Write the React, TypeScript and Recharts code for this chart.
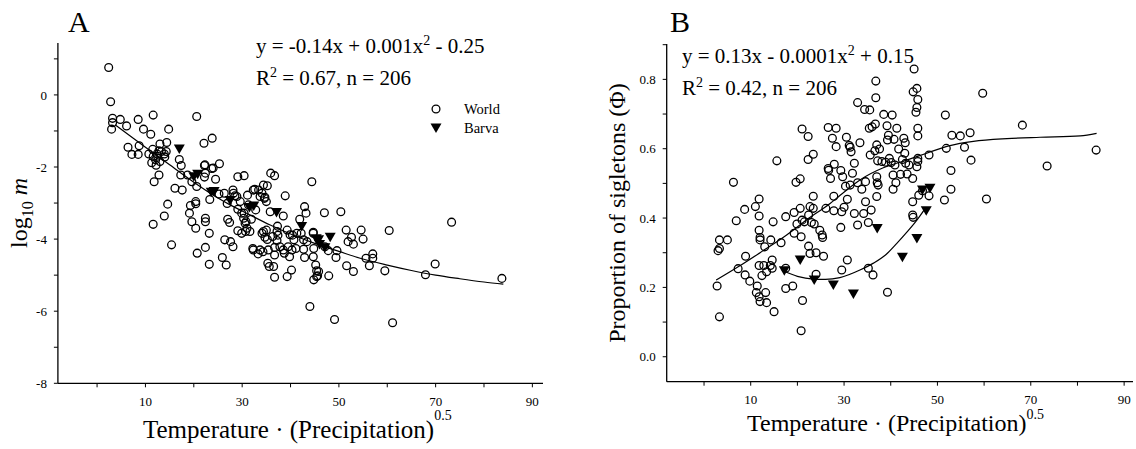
import React from "react";
import { ScatterChart, Scatter, XAxis, YAxis } from "recharts";

const FONT = '"Liberation Serif", "Times New Roman", serif';

// x ticks shared by both panels (labels only on odd tens)
const xTicks = [0, 10, 20, 30, 40, 50, 60, 70, 80, 90];
const xLabelled = [10, 30, 50, 70, 90];

const yTicksA = [-8, -7, -6, -5, -4, -3, -2, -1, 0, 1];
const yLabelledA = [-8, -6, -4, -2, 0];
const yTicksB = [0, 0.1, 0.2, 0.3, 0.4, 0.5, 0.6, 0.7, 0.8, 0.9];
const yLabelledB = ["0.0", "0.2", "0.4", "0.6", "0.8"];

// panel A: log10 m vs T*P^0.5
const worldA: [number, number][] = [
  [2.4, 0.76], [2.8, -0.19], [3.2, -0.65], [3.2, -0.77], [3.0, -0.95], [4.8, -0.68], [6.1, -0.86], [8.5, -0.68],
  [9.6, -0.95], [11.1, -1.09], [11.6, -0.56], [6.4, -1.45], [7.2, -1.65], [8.5, -1.65], [8.7, -1.41], [10.7, -1.64],
  [11.5, -1.51], [11.6, -1.71], [12.1, -1.8], [12.4, -1.64], [11.3, -1.88], [13.0, -1.36], [13.3, -1.57], [13.9, -1.64],
  [14.4, -1.32], [14.8, -0.95], [14.3, -1.57], [12.8, -2.22], [11.8, -2.41], [11.6, -3.59], [13.9, -3.36], [14.6, -3.03],
  [15.4, -4.16], [17.0, -1.79], [17.4, -1.96], [17.3, -2.22], [16.1, -2.59], [17.6, -2.64], [18.7, -2.22], [19.3, -3.07],
  [19.1, -3.28], [19.6, -3.52], [20.4, -3.7], [20.4, -2.96], [20.4, -3.02], [19.6, -2.41], [20.6, -0.6], [20.6, -2.54],
  [20.7, -4.39], [22.2, -1.96], [22.4, -2.17], [22.1, -1.34], [23.8, -1.2], [22.2, -2.28], [22.4, -3.42], [22.4, -3.52],
  [22.4, -4.23], [23.2, -3.84], [23.2, -4.7], [23.3, -2.9], [23.7, -2.04], [24.5, -2.34], [25.3, -1.91], [25.2, -2.75],
  [26.3, -2.73], [26.9, -3.01], [27.0, -3.45], [27.4, -3.54], [27.6, -4.07], [28.1, -4.21], [25.9, -4.51], [26.4, -4.02],
  [26.7, -4.72], [28.1, -2.64], [28.5, -2.8], [29.1, -2.27], [30.4, -2.24], [29.1, -3.17], [29.1, -3.77], [29.9, -3.84],
  [30.4, -3.28], [30.6, -3.56], [30.7, -3.79], [31.1, -2.78], [31.3, -3.05], [31.9, -3.45], [32.2, -4.26], [32.6, -2.62],
  [32.8, -3.19], [33.3, -4.41], [33.7, -2.82], [34.1, -2.73], [34.3, -4.35], [34.4, -2.5], [34.1, -3.84], [34.6, -2.87],
  [35.0, -2.96], [35.2, -2.52], [35.0, -3.75], [35.2, -4.01], [35.3, -4.67], [35.6, -4.76], [35.9, -2.17], [36.7, -2.24],
  [36.3, -3.93], [36.7, -4.23], [36.7, -4.44], [36.5, -4.76], [36.7, -5.06], [37.3, -3.64], [37.4, -3.89], [37.8, -4.21],
  [38.5, -3.36], [38.9, -2.8], [38.7, -4.39], [39.3, -3.75], [39.5, -4.21], [39.8, -4.49], [39.3, -5.04], [40.2, -4.86],
  [40.4, -3.89], [40.7, -4.02], [41.1, -4.26], [41.9, -3.45], [42.2, -3.84], [42.7, -4.02], [42.7, -4.28], [42.9, -3.1],
  [43.2, -3.28], [42.9, -4.51], [44.0, -5.87], [44.4, -2.41], [44.7, -3.81], [44.7, -4.49], [44.8, -5.13], [45.2, -4.72],
  [45.4, -4.88], [45.6, -5.02], [44.8, -4.26], [47.0, -3.27], [47.1, -4.21], [47.8, -4.32], [47.9, -5.02], [49.1, -6.23],
  [49.4, -4.51], [49.6, -4.32], [50.4, -3.24], [51.5, -3.75], [51.9, -4.07], [51.6, -4.74], [52.6, -3.95], [53.0, -4.14],
  [53.0, -4.9], [54.6, -3.75], [55.0, -4.0], [55.6, -4.53], [56.3, -4.74], [57.0, -4.41], [57.0, -4.53], [59.5, -4.88],
  [60.4, -3.76], [61.1, -6.32], [67.9, -4.99], [69.9, -4.69], [73.3, -3.53], [83.7, -5.09],
  [12.5, -1.7], [13.0, -1.85], [12.8, -1.55], [14.0, -1.72], [12.2, -1.95], [22.3, -1.94], [24.0, -2.03], [28.2, -2.73],
  [28.9, -2.82], [29.6, -2.96], [29.9, -3.28], [30.3, -3.42], [30.8, -3.52], [31.0, -3.7], [31.6, -3.79], [32.3, -2.64],
  [33.4, -2.64], [34.7, -2.84], [35.8, -3.24], [34.4, -3.79], [34.7, -3.95], [35.4, -4.3], [32.3, -4.3], [33.7, -4.3],
  [37.2, -3.79], [37.2, -4.04], [38.5, -4.3], [39.9, -3.88], [40.3, -4.3], [41.3, -3.84], [43.4, -4.07], [44.7, -3.84],
  [45.8, -4.9], [45.4, -5.04],
];

const barvaA: [number, number][] = [
  [17.0, -1.5], [20.0, -2.27], [20.8, -2.2], [23.6, -2.7], [24.2, -2.68], [27.5, -2.93], [31.5, -3.12], [32.4, -3.08],
  [37.1, -3.26], [42.3, -3.65], [45.3, -3.99], [45.8, -4.02], [48.2, -3.95], [47.1, -4.24], [46.0, -4.15],
];

const fitA: [number, number][] = [
  [3.7, -0.83], [10, -1.45], [15, -1.94], [20, -2.42], [25, -2.86], [27.5, -3.05], [30, -3.22], [35.8, -3.61],
  [40, -3.86], [45, -4.12], [50, -4.34], [54.4, -4.53], [60, -4.72], [65, -4.87], [70, -5.0], [75, -5.1],
  [80, -5.19], [84, -5.25],
];

// panel B: proportion of singletons
const worldB: [number, number][] = [
  [2.8, 0.204], [3.3, 0.115], [3.0, 0.306], [3.3, 0.312], [3.3, 0.337], [5.0, 0.337], [6.3, 0.503], [6.9, 0.392],
  [7.3, 0.254], [8.9, 0.29], [8.7, 0.425], [8.8, 0.236], [9.8, 0.218], [11.0, 0.433], [11.8, 0.455], [11.8, 0.406],
  [11.8, 0.365], [12.0, 0.344], [12.0, 0.337], [11.8, 0.263], [11.4, 0.204], [11.2, 0.185], [11.8, 0.173], [12.0, 0.159],
  [12.4, 0.234], [12.8, 0.263], [13.0, 0.317], [13.2, 0.185], [13.4, 0.156], [13.4, 0.245], [14.3, 0.337], [14.6, 0.279],
  [14.6, 0.255], [14.2, 0.263], [14.8, 0.389], [15.0, 0.13], [15.6, 0.565], [16.5, 0.329], [17.5, 0.404], [17.5, 0.255],
  [17.5, 0.197], [19.0, 0.204], [19.3, 0.356], [19.3, 0.416], [19.7, 0.503], [19.9, 0.383], [20.6, 0.513], [20.6, 0.428],
  [20.8, 0.346], [21.0, 0.394], [21.1, 0.162], [20.8, 0.075], [21.0, 0.657], [21.5, 0.389], [22.3, 0.635], [22.3, 0.569],
  [22.4, 0.409], [22.4, 0.319], [22.7, 0.433], [22.7, 0.298], [23.0, 0.387], [23.4, 0.584], [23.4, 0.463], [23.4, 0.428],
  [23.6, 0.383], [24.0, 0.3], [24.0, 0.238], [24.8, 0.365], [25.3, 0.351], [25.4, 0.344], [25.6, 0.29], [26.1, 0.428],
  [26.6, 0.543], [26.6, 0.661], [26.7, 0.538], [27.1, 0.514], [27.5, 0.63], [27.8, 0.463], [27.8, 0.421], [27.9, 0.555],
  [28.3, 0.659], [28.3, 0.606], [29.3, 0.537], [29.3, 0.373], [29.5, 0.418], [29.5, 0.25], [29.7, 0.519], [30.0, 0.431],
  [30.3, 0.492], [30.5, 0.633], [30.7, 0.454], [30.7, 0.279], [31.1, 0.609], [31.3, 0.604], [31.3, 0.495], [31.5, 0.591],
  [31.8, 0.529], [32.2, 0.558], [32.2, 0.413], [32.9, 0.733], [32.9, 0.502], [32.9, 0.38], [33.4, 0.617], [33.8, 0.483],
  [34.2, 0.413], [34.4, 0.713], [34.6, 0.505], [34.6, 0.447], [35.2, 0.255], [35.2, 0.387], [35.4, 0.659], [35.5, 0.712],
  [35.6, 0.582], [35.8, 0.423], [36.0, 0.663], [36.2, 0.236], [36.6, 0.594], [36.7, 0.671], [36.8, 0.795], [36.8, 0.747],
  [37.0, 0.611], [37.0, 0.519], [37.0, 0.462], [37.1, 0.502], [37.2, 0.565], [37.3, 0.495], [37.6, 0.599], [38.1, 0.563],
  [38.5, 0.699], [38.9, 0.561], [39.2, 0.666], [39.3, 0.625], [39.3, 0.186], [39.5, 0.639], [39.7, 0.572], [40.1, 0.56],
  [40.3, 0.697], [40.5, 0.524], [40.5, 0.483], [40.7, 0.627], [40.9, 0.553], [41.1, 0.502], [41.3, 0.659], [41.7, 0.599],
  [42.1, 0.526], [42.5, 0.569], [42.8, 0.63], [43.0, 0.587], [43.1, 0.617], [43.2, 0.558], [43.5, 0.527], [43.9, 0.553],
  [44.7, 0.514], [44.7, 0.447], [44.7, 0.409], [44.8, 0.402], [44.8, 0.764], [45.0, 0.83], [45.6, 0.774], [45.8, 0.742],
  [45.6, 0.719], [45.4, 0.705], [45.8, 0.659], [45.8, 0.637], [45.8, 0.572], [45.8, 0.563], [45.6, 0.548], [46.0, 0.466],
  [46.8, 0.479], [48.2, 0.582], [48.2, 0.464], [51.7, 0.697], [51.9, 0.601], [51.5, 0.452], [52.9, 0.537], [52.9, 0.483],
  [53.1, 0.639], [54.9, 0.637], [55.8, 0.604], [57.0, 0.646], [57.2, 0.567], [59.7, 0.76], [60.5, 0.455], [68.2, 0.668],
  [73.5, 0.55], [84.0, 0.596],
];

const barvaB: [number, number][] = [
  [17.2, 0.248], [20.6, 0.279], [23.6, 0.221], [27.7, 0.207], [32.0, 0.181], [37.1, 0.37], [42.5, 0.287], [45.6, 0.341],
  [46.8, 0.481], [48.4, 0.486], [47.6, 0.421],
];

const fitWorldB: [number, number][] = [
  [2.6, 0.221], [7.4, 0.26], [12, 0.3], [17.7, 0.351], [22, 0.395], [27, 0.442], [29.1, 0.465], [33.4, 0.51],
  [38.4, 0.545], [43.4, 0.567], [47.7, 0.587], [52.7, 0.609], [57.7, 0.621], [64.9, 0.629], [72, 0.633], [80.6, 0.637],
  [84.1, 0.644],
];

const fitBarvaB: [number, number][] = [
  [17.4, 0.245], [20, 0.232], [23.4, 0.224], [26, 0.223], [29.1, 0.228], [33.4, 0.25], [36.3, 0.27], [39, 0.295],
  [41.3, 0.327], [43.5, 0.36], [45.6, 0.394], [47.4, 0.428],
];

const pts = (a: [number, number][]) => a.map(([x, y]) => ({ x, y }));

const Ring = (p: any) => (
  <circle cx={p.cx} cy={p.cy} r={3.9} fill="none" stroke="#000" strokeWidth={1.3} />
);
const Tri = (p: any) => (
  <path d={`M${p.cx - 5.5},${p.cy - 4.5}L${p.cx + 5.5},${p.cy - 4.5}L${p.cx},${p.cy + 5}Z`} fill="#000" />
);
const NoDot = () => <g />;

const tickStyle = { fill: "#000", fontSize: 13, fontFamily: FONT, style: { fontFamily: FONT } };

function Panel(props: {
  left: number;
  width: number;
  margin: { top: number; right: number; bottom: number; left: number };
  yWidth: number;
  xDomain: [number, number];
  yDomain: [number, number];
  yTicks: number[];
  yFmt: (v: number) => string;
  world: [number, number][];
  barva: [number, number][];
  fits: [number, number][][];
}) {
  const { left, width, margin, yWidth, xDomain, yDomain, yTicks, yFmt, world, barva, fits } = props;
  return (
    <div style={{ position: "absolute", left, top: 0 }}>
      <ScatterChart width={width} height={449} margin={margin}>
        <XAxis
          type="number"
          dataKey="x"
          domain={xDomain}
          ticks={xTicks}
          interval={0}
          allowDataOverflow
          height={40}
          tickSize={4}
          tickMargin={9}
          tickFormatter={(v: number) => (xLabelled.includes(v) ? String(v) : "")}
          tick={tickStyle}
          axisLine={{ stroke: "#000", strokeWidth: 1.3 }}
          tickLine={{ stroke: "#000" }}
        />
        <YAxis
          type="number"
          dataKey="y"
          domain={yDomain}
          ticks={yTicks}
          interval={0}
          allowDataOverflow
          width={yWidth}
          tickSize={4}
          tickMargin={7}
          tickFormatter={yFmt}
          tick={tickStyle}
          axisLine={{ stroke: "#000", strokeWidth: 1.3 }}
          tickLine={{ stroke: "#000" }}
        />
        <Scatter data={pts(world)} shape={Ring} isAnimationActive={false} />
        <Scatter data={pts(barva)} shape={Tri} isAnimationActive={false} />
        {fits.map((f, i) => (
          <Scatter
            key={i}
            data={pts(f)}
            shape={NoDot}
            line={{ stroke: "#000", strokeWidth: 1.2 }}
            lineJointType="monotoneX"
            isAnimationActive={false}
          />
        ))}
      </ScatterChart>
    </div>
  );
}

export default function App() {
  return (
    <div style={{ position: "absolute", left: 0, top: 0, width: 1136, height: 449, background: "#fff" }}>
      <Panel
        left={0}
        width={560}
        margin={{ top: 43, right: 17, bottom: 25.7, left: 7.9 }}
        yWidth={50}
        xDomain={[-8.1, 92.2]}
        yDomain={[-8, 1.44]}
        yTicks={yTicksA}
        yFmt={(v) => (yLabelledA.includes(v) ? String(v) : "")}
        world={worldA}
        barva={barvaA}
        fits={[fitA]}
      />
      <Panel
        left={560}
        width={576}
        margin={{ top: 44, right: 3, bottom: 27.3, left: 46.7 }}
        yWidth={60}
        xDomain={[-8, 91.9]}
        yDomain={[-0.072, 0.902]}
        yTicks={yTicksB}
        yFmt={(v) => (yLabelledB.includes(v.toFixed(1)) && v < 0.85 ? v.toFixed(1) : "")}
        world={worldB}
        barva={barvaB}
        fits={[fitWorldB, fitBarvaB]}
      />
      <svg
        width={1136}
        height={449}
        style={{ position: "absolute", left: 0, top: 0, pointerEvents: "none" }}
        fontFamily={FONT}
        fill="#000"
      >
        <text x={68} y={32} fontSize={30}>A</text>
        <text x={670} y={32} fontSize={30}>B</text>

        <text x={256} y={53} fontSize={21}>
          y = -0.14x + 0.001x<tspan dy={-8} fontSize={14}>2</tspan><tspan dy={8}> - 0.25</tspan>
        </text>
        <text x={256} y={85} fontSize={21}>
          R<tspan dy={-8} fontSize={14}>2</tspan><tspan dy={8}> = 0.67, n = 206</tspan>
        </text>
        <text x={682} y={63} fontSize={21}>
          y = 0.13x - 0.0001x<tspan dy={-8} fontSize={14}>2</tspan><tspan dy={8}> + 0.15</tspan>
        </text>
        <text x={682} y={95} fontSize={21}>
          R<tspan dy={-8} fontSize={14}>2</tspan><tspan dy={8}> = 0.42, n = 206</tspan>
        </text>

        <circle cx={436} cy={109} r={3.9} fill="none" stroke="#000" strokeWidth={1.3} />
        <text x={464} y={114} fontSize={14.5}>World</text>
        <path d="M430.5,123.5L441.5,123.5L436,133Z" fill="#000" />
        <text x={464} y={133} fontSize={14.5}>Barva</text>

        <text x={143} y={438} fontSize={25}>
          Temperature · (Precipitation)<tspan dy={-18} fontSize={14}>0.5</tspan>
        </text>
        <text x={747} y={431} fontSize={24}>
          Temperature · (Precipitation)<tspan dy={-12} fontSize={14}>0.5</tspan>
        </text>

        <text transform="translate(27,213) rotate(-90)" textAnchor="middle" fontSize={24}>
          log<tspan dy={6} fontSize={16}>10</tspan><tspan dy={-6} fontStyle="italic"> m</tspan>
        </text>
        <text transform="translate(625,213) rotate(-90)" textAnchor="middle" fontSize={24}>
          Proportion of sigletons (Φ)
        </text>
      </svg>
    </div>
  );
}
